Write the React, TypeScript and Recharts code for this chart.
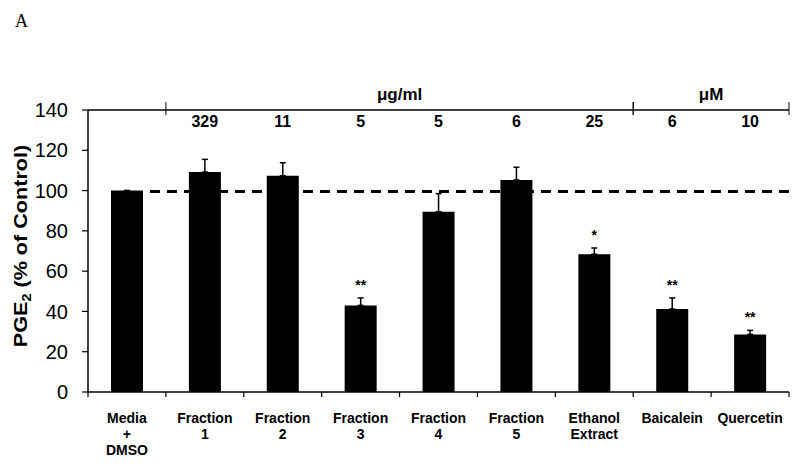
import React from 'react';
import {
  BarChart,
  Bar,
  XAxis,
  YAxis,
  ErrorBar,
  LabelList,
  ReferenceLine,
  ReferenceArea,
} from 'recharts';

const categories = [
  'Media\n+\nDMSO',
  'Fraction\n1',
  'Fraction\n2',
  'Fraction\n3',
  'Fraction\n4',
  'Fraction\n5',
  'Ethanol\nExtract',
  'Baicalein',
  'Quercetin',
];
const values = [100, 109.2, 107.4, 43, 89.5, 105.3, 68.4, 41.2, 28.6];
const errors = [0, 6.3, 6.4, 3.7, 9, 6.3, 3.1, 5.5, 2];
const doses = ['', '329', '11', '5', '5', '6', '25', '6', '10'];
const significance = ['', '', '', '**', '', '', '*', '**', '**'];
const groups = [
  { label: 'μg/ml', from: 1, to: 6 },
  { label: 'μM', from: 7, to: 8 },
];
const yTicks = [0, 20, 40, 60, 80, 100, 120, 140];
const controlLevel = 99.5;

const data = categories.map((name, i) => ({
  name,
  value: values[i],
  err: [0, errors[i]],
  sig: significance[i],
  dose: doses[i],
}));

const FONT = "'Liberation Sans', Arial, Helvetica, sans-serif";
const BAR_SIZE = 32;
const W = 800;
const H = 466;
const TOP_AXIS_H = 10;
const margin = { top: 110 - TOP_AXIS_H, right: 11, bottom: 14, left: 20 };
const Y_AXIS_W = 68;
const bandW = (W - margin.left - margin.right - Y_AXIS_W) / categories.length;

function BottomTick(props: any) {
  const { x, y, payload, index } = props;
  const i = payload?.index ?? index;
  const half = payload?.offset ? payload.offset : bandW / 2;
  const lines = String(payload.value).split('\n');
  return (
    <g>
      <line x1={x - half} x2={x - half} y1={y} y2={y + 5} stroke="#000" strokeWidth={1.2} />
      {i === categories.length - 1 && (
        <line x1={x + half} x2={x + half} y1={y} y2={y + 5} stroke="#000" strokeWidth={1.2} />
      )}
      <text textAnchor="middle" fontFamily={FONT} fontWeight="bold" fontSize={14} fill="#000">
        {lines.map((l, k) => (
          <tspan key={k} x={x} y={y + 31 + k * 16}>
            {l}
          </tspan>
        ))}
      </text>
    </g>
  );
}

function DoseTick(props: any) {
  const { x, payload, index } = props;
  const i = payload?.index ?? index;
  return (
    <text x={x} y={110 + 17} textAnchor="middle" fontFamily={FONT} fontWeight="bold" fontSize={16} fill="#000">
      {doses[i]}
    </text>
  );
}

function SigLabel(props: any) {
  const { x, y, width, height, value, index } = props;
  if (!value) return null;
  const errPx = values[index] ? (errors[index] * height) / values[index] : 0;
  return (
    <text
      x={x + width / 2}
      y={y - errPx - 8}
      textAnchor="middle"
      fontFamily={FONT}
      fontWeight="bold"
      fontSize={14}
      fill="#000"
    >
      {value}
    </text>
  );
}

function YTitle() {
  return (
    <text
      transform="translate(27,246) rotate(-90) scale(1.2,1)"
      textAnchor="middle"
      fontFamily={FONT}
      fontWeight="bold"
      fontSize={18}
      fill="#000"
    >
      PGE<tspan fontSize={12} dy={4}>2</tspan>
      <tspan dy={-4}> (% of Control)</tspan>
    </text>
  );
}

const groupShape = (label: string) => (p: any) => {
  const { x, y, width } = p;
  return (
    <g>
      <line x1={x} x2={x} y1={y - 8} y2={y + 5} stroke="#000" strokeWidth={1} />
      <line x1={x + width} x2={x + width} y1={y - 8} y2={y + 5} stroke="#000" strokeWidth={1} />
      <text x={x + width / 2} y={y - 10} textAnchor="middle" fontFamily={FONT} fontWeight="bold" fontSize={17} fill="#000">
        {label}
      </text>
    </g>
  );
};

const dashedControl = (p: any) => {
  const start = p.x1 + bandW / 2 + BAR_SIZE / 2 + 7;
  return (
    <line x1={start} x2={p.x2} y1={p.y1} y2={p.y2} stroke="#000" strokeWidth={3} strokeDasharray="10 7" />
  );
};

export default function App() {
  return (
    <div style={{ position: 'absolute', left: 0, top: 0, width: W, height: H, background: '#fff' }}>
      <div
        style={{
          position: 'absolute',
          left: 15,
          top: 11,
          fontFamily: "'Liberation Serif', 'Times New Roman', serif",
          fontSize: 18,
          color: '#000',
        }}
      >
        A
      </div>
      <BarChart width={W} height={H} data={data} margin={margin} style={{ fontFamily: FONT }}>
        <XAxis
          dataKey="name"
          height={60}
          interval={0}
          axisLine={{ stroke: '#000', strokeWidth: 1.5 }}
          tickLine={false}
          tickSize={0}
          tickMargin={0}
          tick={<BottomTick />}
        />
        <XAxis
          xAxisId="top"
          orientation="top"
          dataKey="dose"
          height={TOP_AXIS_H}
          interval={0}
          axisLine={false}
          tickLine={false}
          tickSize={0}
          tickMargin={0}
          tick={<DoseTick />}
        />
        <YAxis
          domain={[0, 140]}
          ticks={yTicks}
          width={Y_AXIS_W}
          tickSize={6}
          tickMargin={14}
          axisLine={{ stroke: '#000', strokeWidth: 1.5 }}
          tickLine={{ stroke: '#000', strokeWidth: 1.2 }}
          tick={{ fontSize: 20, fill: '#000', fontFamily: FONT }}
          label={<YTitle />}
        />
        <YAxis
          yAxisId="right"
          orientation="right"
          domain={[0, 140]}
          width={0}
          tick={false}
          tickLine={false}
          axisLine={{ stroke: '#000', strokeWidth: 1.5 }}
        />
        <ReferenceLine y={140} stroke="#000" strokeWidth={1.5} />
        <ReferenceLine y={controlLevel} shape={dashedControl} />
        {groups.map((g) => (
          <ReferenceArea
            key={g.label}
            x1={categories[g.from]}
            x2={categories[g.to]}
            y1={140}
            y2={135}
            ifOverflow="visible"
            shape={groupShape(g.label)}
          />
        ))}
        <Bar dataKey="value" fill="#000" barSize={BAR_SIZE} isAnimationActive={false}>
          <ErrorBar dataKey="err" width={3} stroke="#000" strokeWidth={1.5} direction="y" />
          <LabelList dataKey="sig" content={<SigLabel />} />
        </Bar>
      </BarChart>
    </div>
  );
}
